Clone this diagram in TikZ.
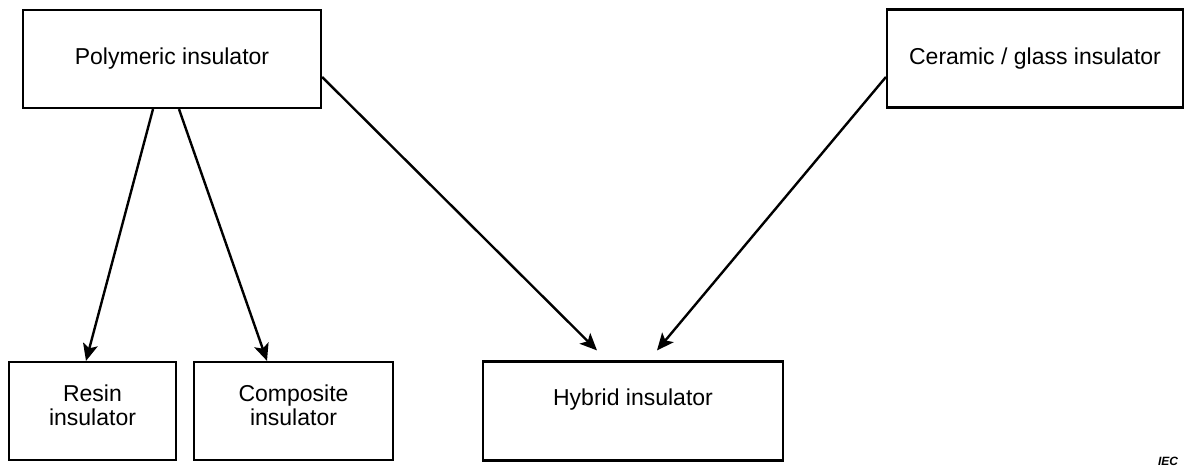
\documentclass[tikz,border=0pt]{standalone}
\usepackage{fontspec}
\setmainfont{Liberation Sans}
\usetikzlibrary{arrows.meta,positioning}

\begin{document}
\begin{tikzpicture}[
x=1pt, y=-1pt,
every node/.style={font=\fontsize{23}{24}\selectfont},
kind/.style={draw, line width=2.2pt, align=center, inner sep=0pt},
wide/.style={kind, minimum width=298pt, minimum height=98pt},
small/.style={kind, minimum height=98pt},
arrow/.style={-{Stealth[length=17pt, width=15pt, inset=4pt]}, line width=2.4pt}
]
\useasboundingbox (0,0) rectangle (1185,466);

% top row - base materials
\node[wide] (poly) at (172,59) {Polymeric insulator};
\node[wide, minimum width=296pt] (ceramic) at (1035,58.5) {Ceramic / glass insulator};

% bottom row - insulator types
\node[small, minimum width=167pt, text depth=12pt] (resin) at (92.5,411) {Resin\\insulator};
\node[small, minimum width=199pt, text depth=12pt] (composite) at (293.5,411) {Composite\\insulator};
\node[small, minimum width=300pt, minimum height=99pt, text depth=28pt] (hybrid) at (633,411) {Hybrid insulator};

% IEC mark
\node[font=\fontsize{12}{12}\selectfont\bfseries\itshape] (iec) at (1168,461) {IEC};

% Arrows from top to bottom row
\draw[arrow] ([xshift=-19pt]poly.south) -- ([xshift=-6.5pt]resin.north);
\draw[arrow] ([xshift=7pt]poly.south) -- ([xshift=-26.5pt]composite.north);
\draw[arrow] ([yshift=-18pt]poly.east) -- ([xshift=-36pt, yshift=10pt]hybrid.north);
\draw[arrow] ([yshift=-18.5pt]ceramic.west) -- ([xshift=24pt, yshift=10pt]hybrid.north);

\end{tikzpicture}
\end{document}
